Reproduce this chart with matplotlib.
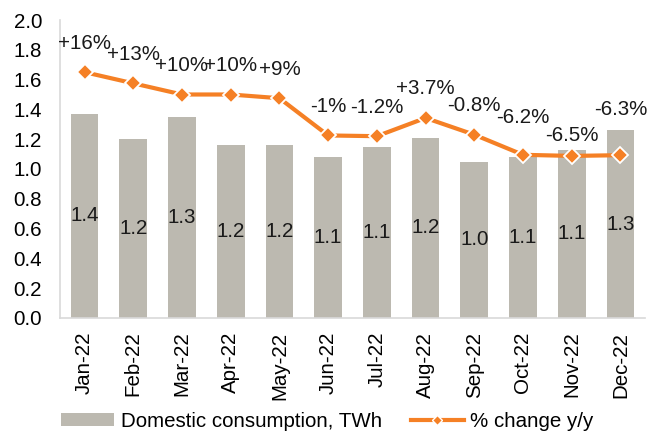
import matplotlib.pyplot as plt
from matplotlib.lines import Line2D
from matplotlib.patches import Patch

plt.rcParams['font.family'] = ['Liberation Sans', 'DejaVu Sans']

months = ['Jan-22', 'Feb-22', 'Mar-22', 'Apr-22', 'May-22', 'Jun-22',
          'Jul-22', 'Aug-22', 'Sep-22', 'Oct-22', 'Nov-22', 'Dec-22']
consumption = [1.37, 1.20, 1.35, 1.16, 1.16, 1.08, 1.15, 1.21, 1.05, 1.08, 1.13, 1.26]
consumption_labels = ['1.4', '1.2', '1.3', '1.2', '1.2', '1.1', '1.1', '1.2', '1.0', '1.1', '1.1', '1.3']
change_pct = [16, 13, 10, 10, 9, -1, -1.2, 3.7, -0.8, -6.2, -6.5, -6.3]
change_labels = ['+16%', '+13%', '+10%', '+10%', '+9%', '-1%', '-1.2%', '+3.7%',
                 '-0.8%', '-6.2%', '-6.5%', '-6.3%']

bar_color = '#BCB9B0'
line_color = '#F58025'
fs = 14.8

fig = plt.figure(figsize=(6.48, 4.36), dpi=100)
ax = fig.add_axes([0.093, 0.271, 0.902, 0.683])
x = list(range(len(months)))

ax.bar(x, consumption, width=0.57, color=bar_color, zorder=1)
for xi, h, lab in zip(x, consumption, consumption_labels):
    ax.text(xi, h / 2, lab, ha='center', va='center', fontsize=fs, color='#1a1a1a')

ax.set_ylim(0, 2.0)
ax.set_xlim(-0.5, 11.5)
ax.set_yticks([0.0, 0.2, 0.4, 0.6, 0.8, 1.0, 1.2, 1.4, 1.6, 1.8, 2.0])
ax.set_yticklabels([f'{v:.1f}' for v in ax.get_yticks()], fontsize=fs)
ax.set_xticks(x)
ax.set_xticklabels(months, rotation=90, fontsize=fs)
ax.tick_params(axis='y', length=0, pad=13)
ax.tick_params(axis='x', length=0, pad=10)
for side in ['top', 'right']:
    ax.spines[side].set_visible(False)
for side in ['left', 'bottom']:
    ax.spines[side].set_color('#D9D9D9')
    ax.spines[side].set_linewidth(1.2)

# % change on a hidden secondary scale
ax2 = ax.twinx()
ax2.set_ylim(-50, 30)
ax2.plot(x, change_pct, color=line_color, linewidth=3, marker='D', markersize=8,
         markerfacecolor=line_color, markeredgecolor='white', markeredgewidth=1.3, zorder=3)
# label lift above each point (points); a few were nudged by hand in the original
lift = [21, 21, 21, 21, 21, 21, 21, 21, 21, 27, 15, 33]
for xi, p, lab, dy in zip(x, change_pct, change_labels, lift):
    ax2.annotate(lab, (xi, p), xytext=(0, dy), textcoords='offset points',
                 ha='center', va='center', fontsize=fs, color='#1a1a1a')
ax2.axis('off')

handles = [Patch(facecolor=bar_color, label='Domestic consumption, TWh'),
           Line2D([0], [0], color=line_color, linewidth=3, marker='D', markersize=5,
                  markerfacecolor=line_color, markeredgecolor='white',
                  label='% change y/y')]
fig.legend(handles=handles, loc='lower center', bbox_to_anchor=(0.505, -0.03), ncol=2,
           frameon=False, fontsize=fs, handlelength=2.6, handleheight=0.55,
           handletextpad=0.3, columnspacing=1.4)

fig.savefig('out.png', dpi=100)
